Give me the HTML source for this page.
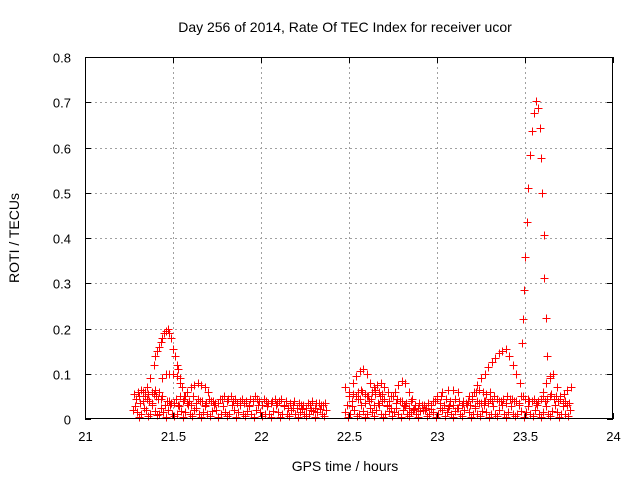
<!DOCTYPE html>
<html><head><meta charset="utf-8"><style>
body{margin:0;background:#fff}
svg{display:block;font-family:"Liberation Sans",sans-serif}
</style></head><body>
<svg id="chart" width="640" height="480" xmlns="http://www.w3.org/2000/svg">
<text x="345" y="32" font-size="14" text-anchor="middle">Day 256 of 2014, Rate Of TEC Index for receiver ucor</text>
<text x="345" y="471" font-size="14" text-anchor="middle">GPS time / hours</text>
<text transform="translate(19,238) rotate(-90)" font-size="14" text-anchor="middle">ROTI / TECUs</text>
<g id="grid" shape-rendering="crispEdges"></g>
<g id="marks" shape-rendering="crispEdges"></g>
<rect x="85.5" y="57.5" width="527" height="361" fill="none" stroke="#000" stroke-width="1" shape-rendering="crispEdges"/>
<g id="ticks"></g>
</svg>
<script>
const xTicks=[21,21.5,22,22.5,23,23.5,24];
const xTickLabels=["21","21.5","22","22.5","23","23.5","24"];
const yTicks=[0,0.1,0.2,0.3,0.4,0.5,0.6,0.7,0.8];
const yTickLabels=["0","0.1","0.2","0.3","0.4","0.5","0.6","0.7","0.8"];

const lowA_t=[21.27,21.295,21.32,21.345,21.37,21.395,21.42,21.445,21.47,21.495,21.52,21.545,21.57,21.595,21.62,21.645,21.67,21.695,21.72,21.745,21.77,21.795,21.82,21.845,21.87,21.895,21.92,21.945,21.97,21.995,22.02,22.045,22.07,22.095,22.12,22.145,22.17,22.195,22.22,22.245,22.27,22.295,22.32,22.345,22.37];
const lowA_v=[0.02,0.015,0.01,0.02,0.012,0.018,0.01,0.015,0.02,0.012,0.01,0.018,0.015,0.01,0.02,0.012,0.015,0.01,0.018,0.02,0.012,0.015,0.01,0.02,0.015,0.012,0.018,0.01,0.02,0.015,0.012,0.01,0.018,0.015,0.01,0.012,0.02,0.01,0.015,0.012,0.01,0.018,0.015,0.01,0.02];
const lowA2_t=[21.283,21.308,21.333,21.358,21.383,21.408,21.433,21.458,21.483,21.508,21.533,21.558,21.583,21.608,21.633,21.658,21.683,21.708,21.733,21.758,21.783,21.808,21.833,21.858,21.883,21.908,21.933,21.958,21.983,22.008,22.033,22.058,22.083,22.108,22.133,22.158,22.183,22.208,22.233,22.258,22.283,22.308,22.333,22.358];
const lowA2_v=[0.028,0.005,0.025,0.006,0.03,0.008,0.025,0.005,0.03,0.006,0.028,0.004,0.03,0.007,0.025,0.005,0.028,0.006,0.03,0.004,0.028,0.006,0.03,0.005,0.03,0.007,0.028,0.005,0.03,0.006,0.028,0.005,0.03,0.004,0.028,0.006,0.025,0.005,0.022,0.006,0.02,0.005,0.022,0.006];
const upA_t=[21.28,21.305,21.33,21.355,21.38,21.405,21.43,21.455,21.48,21.505,21.53,21.555,21.58,21.605,21.63,21.655,21.68,21.705,21.73,21.755,21.78,21.805,21.83,21.855,21.88,21.905,21.93,21.955,21.98,22.005,22.03,22.055,22.08,22.105,22.13,22.155,22.18,22.205,22.23,22.255,22.28,22.305,22.33,22.355];
const upA_v=[0.055,0.05,0.04,0.045,0.035,0.05,0.045,0.03,0.04,0.035,0.03,0.04,0.035,0.03,0.035,0.04,0.03,0.045,0.04,0.035,0.045,0.04,0.05,0.045,0.04,0.035,0.03,0.04,0.045,0.03,0.04,0.035,0.045,0.04,0.03,0.025,0.03,0.025,0.03,0.025,0.03,0.025,0.035,0.03];
const upA2_t=[21.29,21.315,21.34,21.365,21.39,21.415,21.44,21.465,21.49,21.515,21.54,21.565,21.59,21.615,21.64,21.665,21.69,21.715,21.74,21.765,21.79,21.815,21.84,21.865,21.89,21.915,21.94,21.965,21.99,22.015,22.04,22.065,22.09,22.115,22.14,22.165,22.19,22.215,22.24,22.265,22.29,22.315,22.34,22.365];
const upA2_v=[0.045,0.035,0.05,0.04,0.055,0.045,0.05,0.04,0.035,0.045,0.05,0.045,0.04,0.05,0.045,0.04,0.035,0.04,0.035,0.045,0.05,0.045,0.04,0.035,0.045,0.04,0.045,0.05,0.04,0.045,0.035,0.04,0.035,0.045,0.04,0.035,0.04,0.035,0.03,0.035,0.04,0.035,0.03,0.035];
const pk1_t=[21.33,21.35,21.37,21.39,21.40,21.41,21.42,21.43,21.44,21.45,21.46,21.47,21.48,21.49,21.50,21.51,21.52,21.53,21.54,21.55,21.57];
const pk1_v=[0.06,0.07,0.09,0.12,0.14,0.15,0.16,0.17,0.18,0.19,0.195,0.2,0.19,0.18,0.155,0.14,0.12,0.11,0.09,0.07,0.05];
const pk2_t=[21.42,21.44,21.46,21.48,21.50,21.52,21.54,21.56,21.58,21.6,21.62,21.64,21.66,21.68,21.7,21.3,21.32,21.34,21.36,21.38,21.4];
const pk2_v=[0.06,0.09,0.1,0.1,0.1,0.095,0.08,0.05,0.06,0.07,0.075,0.08,0.075,0.07,0.06,0.06,0.065,0.06,0.055,0.06,0.065];

const lowB_t=[22.48,22.505,22.53,22.555,22.58,22.605,22.63,22.655,22.68,22.705,22.73,22.755,22.78,22.805,22.83,22.855,22.88,22.905,22.93,22.955,22.98,23.005,23.03,23.055,23.08,23.105,23.13,23.155,23.18,23.205,23.23,23.255,23.28,23.305,23.33,23.355,23.38,23.405,23.43,23.455,23.48,23.505,23.53,23.555,23.58,23.605,23.63,23.655,23.68,23.705,23.73,23.755];
const lowB_v=[0.015,0.01,0.02,0.012,0.018,0.01,0.015,0.02,0.012,0.01,0.018,0.015,0.01,0.02,0.012,0.015,0.01,0.018,0.02,0.012,0.015,0.01,0.02,0.015,0.012,0.018,0.01,0.02,0.015,0.012,0.01,0.018,0.015,0.01,0.012,0.02,0.01,0.015,0.012,0.01,0.018,0.015,0.01,0.02,0.012,0.015,0.01,0.018,0.015,0.012,0.01,0.02];
const lowB2_t=[22.493,22.518,22.543,22.568,22.593,22.618,22.643,22.668,22.693,22.718,22.743,22.768,22.793,22.818,22.843,22.868,22.893,22.918,22.943,22.968,22.993,23.018,23.043,23.068,23.093,23.118,23.143,23.168,23.193,23.218,23.243,23.268,23.293,23.318,23.343,23.368,23.393,23.418,23.443,23.468,23.493,23.518,23.543,23.568,23.593,23.618,23.643,23.668,23.693,23.718,23.743];
const lowB2_v=[0.005,0.028,0.006,0.03,0.005,0.025,0.007,0.03,0.005,0.028,0.006,0.025,0.004,0.028,0.006,0.022,0.005,0.02,0.006,0.022,0.005,0.025,0.006,0.028,0.005,0.025,0.006,0.03,0.005,0.028,0.006,0.03,0.005,0.028,0.006,0.03,0.005,0.028,0.006,0.03,0.005,0.028,0.006,0.03,0.005,0.028,0.006,0.03,0.005,0.028,0.006];
const upB_t=[22.49,22.515,22.54,22.565,22.59,22.615,22.64,22.665,22.69,22.715,22.74,22.765,22.79,22.815,22.84,22.865,22.89,22.915,22.94,22.965,22.99,23.015,23.04,23.065,23.09,23.115,23.14,23.165,23.19,23.215,23.24,23.265,23.29,23.315,23.34,23.365,23.39,23.415,23.44,23.465,23.49,23.515,23.54,23.565,23.59,23.615,23.64,23.665,23.69,23.715,23.74];
const upB_v=[0.03,0.04,0.05,0.045,0.035,0.04,0.03,0.035,0.04,0.03,0.025,0.035,0.04,0.03,0.025,0.02,0.025,0.03,0.025,0.03,0.04,0.035,0.03,0.025,0.03,0.025,0.03,0.035,0.03,0.025,0.035,0.04,0.035,0.04,0.045,0.04,0.035,0.045,0.04,0.035,0.05,0.045,0.04,0.035,0.045,0.04,0.05,0.045,0.04,0.035,0.03];
const upB2_t=[22.5,22.525,22.55,22.575,22.6,22.625,22.65,22.675,22.7,22.725,22.75,22.775,22.8,22.825,22.85,22.875,22.9,22.925,22.95,22.975,23.0,23.025,23.05,23.075,23.1,23.125,23.15,23.175,23.2,23.225,23.25,23.275,23.3,23.325,23.35,23.375,23.4,23.425,23.45,23.475,23.5,23.525,23.55,23.575,23.6,23.625,23.65,23.675,23.7,23.725,23.75];
const upB2_v=[0.05,0.055,0.045,0.06,0.05,0.045,0.055,0.05,0.045,0.04,0.05,0.045,0.04,0.035,0.04,0.03,0.035,0.03,0.035,0.04,0.045,0.05,0.045,0.04,0.045,0.04,0.035,0.04,0.045,0.04,0.035,0.04,0.045,0.05,0.04,0.045,0.05,0.045,0.04,0.05,0.045,0.04,0.045,0.04,0.05,0.045,0.055,0.05,0.045,0.04,0.035];
const bumps_t=[22.48,22.5,22.52,22.54,22.56,22.58,22.6,22.62,22.64,22.66,22.68,22.7,22.72,22.74,22.76,22.78,22.8,22.82,22.84,22.86,23.0,23.03,23.06,23.09,23.12,23.6,23.62,23.64,23.66,23.68,23.7,23.72,23.74,23.76,22.55,22.57,22.59,22.61,22.63,22.65,22.67,22.69];
const bumps_v=[0.07,0.06,0.08,0.095,0.105,0.11,0.1,0.08,0.07,0.075,0.08,0.07,0.06,0.05,0.06,0.075,0.085,0.08,0.06,0.045,0.05,0.06,0.065,0.065,0.06,0.06,0.08,0.095,0.1,0.07,0.05,0.055,0.065,0.07,0.06,0.065,0.055,0.05,0.06,0.065,0.06,0.055];
const ramp_t=[23.15,23.18,23.21,23.23,23.25,23.27,23.29,23.31,23.33,23.35,23.37,23.39,23.41,23.43,23.45,23.47,23.2,23.22,23.24,23.26,23.28,23.3];
const ramp_v=[0.04,0.05,0.06,0.075,0.09,0.1,0.115,0.125,0.135,0.145,0.15,0.155,0.14,0.12,0.1,0.08,0.05,0.06,0.065,0.06,0.055,0.06];
const spike_t=[23.483,23.489,23.494,23.5,23.511,23.517,23.528,23.54,23.551,23.562,23.574,23.585,23.591,23.597,23.608,23.608,23.62,23.625,23.642];
const spike_v=[0.167,0.22,0.285,0.357,0.435,0.51,0.583,0.637,0.676,0.703,0.687,0.643,0.576,0.5,0.407,0.312,0.223,0.14,0.09];

const X=t=>85+(t-21)*176;
const Y=v=>419-v*452.5;
const NS="http://www.w3.org/2000/svg";
const grid=document.getElementById('grid'),ticks=document.getElementById('ticks'),marks=document.getElementById('marks');
function mk(tag,attrs,parent){const e=document.createElementNS(NS,tag);for(const k in attrs)e.setAttribute(k,attrs[k]);parent.appendChild(e);return e;}
xTicks.forEach((t,i)=>{
  const x=Math.round(X(t))+0.5;
  if(i>0&&i<xTicks.length-1){const g=mk('line',{x1:x,x2:x,y1:57,y2:419,stroke:'#a0a0a0','stroke-dasharray':'2,3'},grid);
  
  }
  mk('line',{x1:x,x2:x,y1:419,y2:413,stroke:'#000','shape-rendering':'crispEdges'},ticks);
  mk('line',{x1:x,x2:x,y1:57,y2:63,stroke:'#000','shape-rendering':'crispEdges'},ticks);
  const l=mk('text',{x:x,y:441,'font-size':13,'text-anchor':'middle'},ticks);l.textContent=xTickLabels[i];
  
  
});
yTicks.forEach((v,i)=>{
  const y=Math.round(Y(v))+0.5;
  if(i>0&&i<yTicks.length-1){const g=mk('line',{x1:85,x2:613,y1:y,y2:y,stroke:'#a0a0a0','stroke-dasharray':'2,3'},grid);
  
  }
  mk('line',{x1:85,x2:91,y1:y,y2:y,stroke:'#000','shape-rendering':'crispEdges'},ticks);
  mk('line',{x1:613,x2:607,y1:y,y2:y,stroke:'#000','shape-rendering':'crispEdges'},ticks);
  const l=mk('text',{x:71,y:y+5,'font-size':13,'text-anchor':'end'},ticks);l.textContent=yTickLabels[i];
  
  
});
function plot(ts,vs){ts.forEach((t,i)=>{const x=Math.round(X(t))+0.5,y=Math.round(Y(vs[i]))+0.5;
  const p=mk('path',{d:`M${x-4},${y}h8M${x},${y-4}v8`,stroke:'#ff0000','stroke-width':1.4,fill:'none'},marks);
  
  });}
[[lowA_t,lowA_v],[lowA2_t,lowA2_v],[upA_t,upA_v],[upA2_t,upA2_v],[pk1_t,pk1_v],[pk2_t,pk2_v],[lowB_t,lowB_v],[lowB2_t,lowB2_v],[upB_t,upB_v],[upB2_t,upB2_v],[bumps_t,bumps_v],[ramp_t,ramp_v],[spike_t,spike_v]].forEach(s=>plot(s[0],s[1]));
</script>
</body></html>
